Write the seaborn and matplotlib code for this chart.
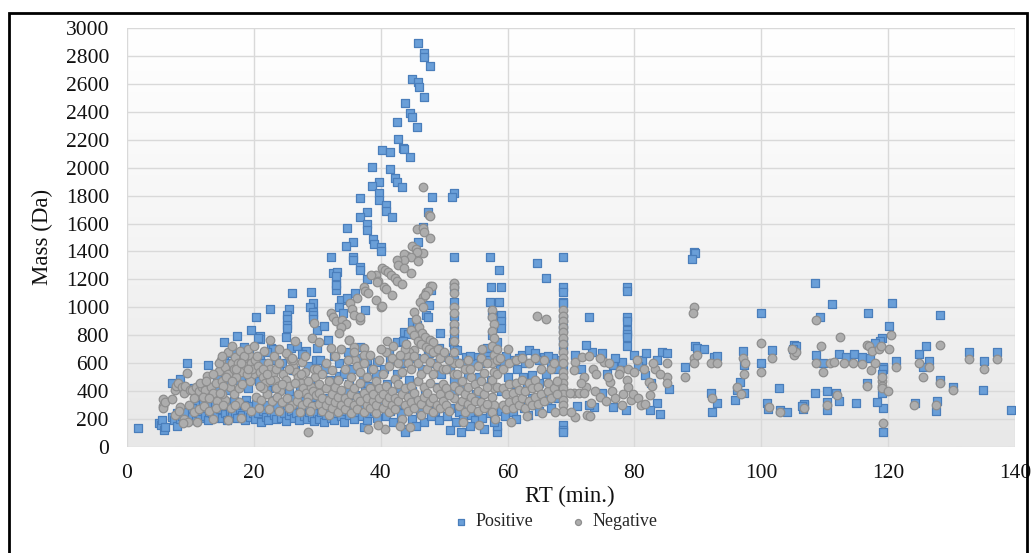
import numpy as np
import pandas as pd
import matplotlib
matplotlib.use("Agg")
import matplotlib.pyplot as plt
import seaborn as sns
from matplotlib.patches import Rectangle
from matplotlib.colors import LinearSegmentedColormap

# ---------------- data (RT min, Mass Da) ----------------
pos_low_rt = [(1.7,134),(5.0,174),(5.3,160),(5.5,195),(5.8,122),(6.0,140),(7.1,213),(7.4,195),(7.9,150),(7.9,241),(8.3,200),(8.4,487),(8.7,225),(9.0,185),(9.3,210),(9.5,599),(9.8,230),(7.1,460),(8.8,430),(9.2,250),
(10.3,217),(10.8,190),(11.2,240),(11.5,205),(11.9,260),(12.3,220),(12.7,195),(13.0,250),(13.4,241),(13.8,205),(14.2,230),(14.6,270),(15.0,210),(15.4,240),(15.8,190),(16.2,260),(16.6,220),(17.0,240),(17.4,205),(17.8,275),(18.2,230),(18.6,190),(19.0,250),(19.4,215),(19.8,240),(11.0,300),(12.0,330),(13.6,310),(15.6,320),(17.2,300),(18.8,340),(19.6,290),
(12.8,587),(14.1,420),(15.3,754),(15.3,635),(15.5,515),(16.5,671),(16.7,556),(17.4,795),(17.6,480),(18.4,718),(19.6,838),(13.2,430),(14.8,560),(16.0,600),(17.0,640),(18.0,500),(18.8,560),(19.2,660),(10.6,420),(11.6,380),(12.4,400),(16.2,450),(19.0,420),(14.4,480),(14.2,503),(16.0,408),
(10.2,280),(12.6,300),(14.8,290),(16.8,330),(18.4,300)]

pos_mid_rt = [(20.3,929),(20.9,795),(20.9,770),(22.5,986),(22.7,707),(23.0,700),(25.5,986),(25.3,945),(25.3,916),(25.2,874),(25.3,852),(25.1,790),(26.0,1105),(29.0,1112),(29.4,1033),(28.9,1005),(29.4,969),(29.4,945),(29.4,917),(30.0,838),(27.9,671),(28.2,690),(26.5,551),(25.9,707),(21.0,650),(21.5,600),(22.0,680),(23.5,620),(24.0,560),(24.5,600),(20.5,560),(26.8,720),(27.6,666),(28.5,580),(29.8,620),(20.6,778),(22.9,503),(26.2,551),
(20.2,200),(20.7,240),(21.1,180),(21.5,260),(21.9,215),(22.3,190),(22.7,250),(23.1,230),(23.5,200),(23.9,270),(24.3,210),(24.7,245),(25.1,185),(25.5,230),(25.9,260),(26.3,205),(26.7,240),(27.1,190),(27.5,275),(27.9,225),(28.3,200),(28.7,250),(29.1,215),(29.5,185),(29.9,240),(21.0,320),(23.0,340),(24.6,310),(26.0,350),(27.8,330),(29.2,360),(22.4,420),(24.0,450),(25.6,400),(27.2,430),(28.8,470),(20.8,470),(22.1,408),
(20.4,310),(22.0,300),(23.6,290),(25.3,300),(27.0,310),(28.6,300)]

pos_ridge = [(32.1,1358),(32.5,1243),(33.1,1254),(32.9,1172),(32.9,1124),(33.7,1053),(34.7,1566),(35.7,1470),(34.6,1439),(35.7,1363),(35.7,1340),(35.9,1100),(36.7,1291),(36.7,1270),(36.8,1781),(37.9,1685),(36.8,1649),(37.9,1597),(37.9,1554),(37.9,1201),(38.7,2003),(39.7,1900),(38.7,1869),(39.7,1816),(39.7,1768),(38.8,1487),(38.9,1451),(40.0,1434),(40.0,1406),(32.9,1227),(32.9,1160),(34.7,1065),(31.1,866),(31.7,766),(33.5,508),(36.8,714),(36.8,599),(30.0,707),(37.6,981),(33.5,1000),(34.0,960),
(45.8,2890),(46.8,2823),(46.9,2790),(47.7,2728),(45.0,2633),(45.8,2613),(46.0,2575),(46.8,2508),(43.9,2461),(44.6,2394),(45.0,2361),(42.6,2330),(45.7,2293),(42.7,2203),(40.2,2127),(41.4,2114),(43.5,2141),(43.7,2135),(44.6,2079),(41.4,1988),(42.3,1924),(42.5,1900),(43.3,1864),(40.8,1733),(40.8,1690),(41.8,1649),(48.1,1792),(47.5,1685),(46.7,1577),(45.9,1466),(47.9,1124),(47.6,1017),(47.1,945),(47.4,930),(45.0,897),(45.7,873),(43.6,825),(44.3,810),(42.6,754),(43.5,760),(41.3,682),(39.4,611),(49.4,814)]

pos_30_50 = [(30.5,620),(31.2,560),(32.0,480),(32.6,650),(33.4,600),(34.2,520),(34.8,680),(35.5,560),(36.2,640),(37.2,500),(37.8,620),(38.5,560),(39.2,520),(35.0,450),(38.0,440),
(30.2,200),(30.6,250),(31.0,180),(31.4,230),(31.8,270),(32.2,210),(32.6,190),(33.0,240),(33.4,290),(33.8,220),(34.2,180),(34.6,260),(35.0,230),(35.4,300),(35.8,200),(36.2,250),(36.6,330),(37.0,220),(37.3,145),(37.4,280),(37.8,190),(38.2,240),(38.6,320),(39.0,260),(39.4,210),(39.8,350),(31.5,350),(33.0,380),(34.5,400),(36.0,370),(37.5,400),(39.0,420),
(40.5,560),(41.5,620),(42.5,520),(43.5,600),(44.5,480),(45.5,640),(46.5,560),(47.5,700),(48.5,600),(49.5,520),(47.6,671),(49.2,707),(41.0,450),(43.0,420),(45.0,400),(47.0,380),(49.0,430),(40.2,300),(40.8,220),(41.4,260),(42.0,180),(42.6,310),(43.2,240),(43.8,130),(43.9,110),(44.4,280),(45.0,200),(45.6,330),(46.2,250),(46.8,180),(47.4,300),(48.0,220),(48.6,260),(49.2,190),(49.8,310),(45.5,150)]

pos_50_70 = [(51.5,1816),(51.3,1790),(51.5,1363),(51.5,1148),(51.5,1040),(51.5,935),(51.5,864),(51.5,792),(51.4,754),(51.5,700),(51.5,620),(51.5,480),(51.5,400),
(57.3,1363),(58.6,1267),(57.4,1143),(58.9,1143),(57.3,1040),(58.6,1040),(57.6,945),(58.9,945),(58.9,900),(58.9,850),(57.5,800),(58.4,750),(57.6,700),(58.8,560),(57.4,480),(58.4,110),(58.4,150),
(64.7,1315),(66.0,1208),
(68.8,1363),(68.8,1148),(68.8,1110),(68.8,1040),(68.8,1029),(68.8,921),(68.8,850),(68.8,760),(68.8,700),(68.8,581),(68.8,158),(68.8,122),(68.8,110),
(53.4,647),(55.2,647),(60.7,623),(62.3,659),(63.4,694),(64.4,671),(65.7,647),(66.8,587),(68.3,623),(56.8,707),(56.8,650),(52.0,694),(50.2,647),(63.9,515),(54.5,600),(59.5,600),(61.5,560),(67.2,640),
(50.5,220),(51.0,280),(51.8,180),(52.4,250),(53.0,200),(53.6,300),(54.2,230),(54.8,190),(55.4,260),(56.0,210),(56.6,300),(57.2,240),(57.8,180),(59.0,260),(59.6,220),(60.2,300),(60.8,250),(61.4,200),(62.0,330),(62.6,280),(63.2,230),(63.8,350),(64.4,300),(65.0,260),(65.6,380),(66.2,330),(66.8,280),(67.4,400),(68.0,350),(52.6,110),(53.0,420),(55.0,380),(57.0,440),(59.0,400),(61.0,450),(63.0,420),(65.0,460),(67.0,440),(51.0,120),(56.3,130),(54.0,150),
(51.0,560),(52.8,600),(54.0,650),(55.8,600),(57.0,620),(59.8,650),(61.8,640),(62.8,600),(64.9,620),(66.3,650),(67.8,560),(60.0,500),(62.5,500),(66.0,520),(53.8,520),(55.5,500)]

pos_70_90 = [(72.8,929),(78.9,1143),(78.9,1115),(78.9,929),(78.9,900),(78.9,838),(78.9,810),(78.9,785),(78.9,723),(70.7,659),(73.3,682),(74.9,675),(72.4,730),(76.7,587),(75.7,523),(78.1,611),(79.9,659),(81.2,623),(81.9,671),(81.7,515),(82.6,456),(84.4,682),(85.2,675),(83.6,623),(85.4,413),(83.6,313),(84.1,236),(82.5,265),(78.6,265),(76.7,289),(74.9,389),(73.6,289),(72.9,300),(70.9,294),(71.5,560),(77.0,640),(80.5,580),
(87.9,571),(89.5,723),(89.8,710),(90.9,700),(92.5,647),(93.0,651),(92.0,389),(92.3,253),(93.0,317),(89.4,1398),(89.6,1390),(89.1,1344)]

pos_high_rt = [(97.1,690),(97.2,587),(96.7,467),(96.1,408),(97.2,384),(95.9,336),
(100.0,962),(100.0,599),(101.7,694),(102.8,420),(100.9,313),(101.1,270),(102.9,265),(104.0,253),(106.7,301),(106.5,270),(105.1,730),(105.4,720),(105.0,700),
(108.5,1172),(111.2,1024),(116.8,957),(120.6,1029),(128.1,945),(109.2,933),(120.2,866),(119.1,778),(118.7,760),(117.9,742),(108.7,659),(109.8,599),(112.2,666),(113.3,647),(114.6,664),(115.8,647),(117.2,635),(119.2,575),(119.2,560),(119.1,520),(119.1,384),(119.2,277),(119.2,110),(116.6,460),(118.3,324),(121.2,618),(124.8,666),(126.0,725),(126.5,618),(125.5,575),(128.1,480),(130.3,427),(132.7,678),(135.1,618),(137.1,678),(134.9,408),(139.3,265),(124.2,313),(127.5,258),(127.7,330),(108.4,389),(110.4,398),(110.4,320),(110.3,265),(111.8,390),(112.3,330),(115.0,313),(106.8,308),(106.4,290)]

neg_low_rt = [(5.6,341),(5.6,294),(5.6,280),(6.0,320),(7.1,341),(7.5,408),(7.8,440),(8.0,460),(8.4,288),(8.6,427),(9.0,390),(9.2,440),(9.5,532),(9.8,300),(7.5,230),(8.2,260),(9.0,200),(9.6,180),(8.8,170),(9.9,410),
(10.3,408),(10.8,427),(11.3,400),(11.8,430),(12.3,410),(12.6,508),(13.3,427),(13.6,390),(14.0,456),(14.5,546),(14.9,470),(15.5,575),(15.5,336),(15.9,520),(16.3,430),(16.5,599),(16.9,560),(17.1,646),(17.5,600),(17.9,540),(18.3,620),(18.7,580),(19.3,659),(19.6,600),(19.9,520),(14.8,620),(16.0,680),(17.8,690),(18.5,650),(19.0,700),(12.0,360),(13.0,350),(14.2,330),(15.0,380),(16.8,380),(17.6,420),(18.2,450),(19.4,470),(15.6,500),(17.2,500),
(10.6,250),(11.4,270),(12.2,290),(13.0,260),(14.0,280),(15.2,300),(16.4,280),(17.6,320),(18.6,290),(19.5,260),(11.0,180),(13.5,200),(16.0,190),(18.0,210),(16.6,470),(18.9,520),(19.7,560),(15.2,440),(17.0,300),(14.6,390),
(10.5,350),(11.5,460),(12.5,470),(13.5,520),(14.5,600),(15.0,650),(16.5,720),(17.2,560),(18.0,600),(19.0,560)]

neg_mid_rt = [(20.2,620),(20.6,580),(21.0,540),(21.4,500),(21.8,460),(22.2,600),(22.6,560),(23.0,520),(23.4,480),(23.8,440),(24.2,400),(24.6,520),(25.0,480),(25.4,660),(25.8,620),(26.2,580),(26.6,540),(27.0,500),(27.4,460),(27.8,420),(28.2,390),(28.6,360),(29.0,430),(29.4,400),(29.8,370),(20.4,360),(21.2,340),(22.0,380),(22.8,330),(23.6,360),(24.4,320),(25.2,350),(26.0,300),(26.8,330),(27.6,300),(28.4,320),(29.2,290),(20.8,280),(22.4,270),(24.0,260),(25.6,280),(27.2,250),(28.8,260),(28.5,110),(21.6,690),(23.2,650),(20.0,720),
(22.6,766),(25.0,671),(26.2,623),(27.6,611),(29.2,778),(30.2,754),(29.5,885),(32.1,957),(32.5,930),(33.0,900),(33.7,861),(32.1,707),(35.0,766),(36.8,909),(24.0,700),(26.5,760),(21.5,420),(23.5,560),(25.5,440),(27.0,380),(28.0,540),(29.6,500),
(20.5,650),(21.5,560),(22.5,480),(23.5,420),(24.5,450),(25.5,560),(26.5,460),(27.5,520),(28.5,470),(29.5,560),(20.9,440),(22.0,520),(24.0,600),(26.0,640),(28.0,650),(30.0,560)]

neg_ridge = [(46.7,1864),(47.6,1661),(47.7,1654),(45.7,1558),(46.7,1565),(46.8,1540),(47.7,1499),(45.0,1439),(45.5,1420),(46.7,1391),(45.7,1398),(44.2,1370),(43.7,1382),(44.7,1360),(45.8,1334),(43.6,1339),(42.6,1339),(42.8,1300),(43.6,1279),(44.7,1243),(40.2,1279),(40.7,1265),(41.1,1255),(41.6,1230),(42.2,1208),(42.6,1190),(43.4,1167),(39.2,1232),(39.5,1190),(40.5,1148),(40.9,1130),(41.8,1088),(38.4,1232),(39.4,1184),(37.3,1148),(37.6,1120),(38.0,1100),(39.2,1053),(40.0,1005),(40.2,1009),(36.3,1065),(35.2,1029),(35.5,990),(35.8,945),(33.9,909),(34.5,880),(33.7,861),(36.8,933),(33.4,814),(35.0,766),(35.8,718),(37.3,707),(37.3,659),(36.0,623),
(47.8,1153),(47.1,1112),(46.6,1075),(46.2,1040),(46.6,1000),(45.2,969),(45.6,920),(46.0,860),(46.5,814),(47.0,790),(47.8,766),(48.2,750),(48.1,1153),(47.4,1119),(47.0,1090),(44.7,838),(45.2,800),(45.8,760),(46.4,740),(47.1,718),(47.6,700),(48.3,680),(45.2,694),(44.5,680),(44.0,660)]

neg_30_50 = [(30.3,310),(30.3,390),(30.3,450),(30.8,260),(30.8,350),(30.8,520),(31.3,300),(31.3,420),(31.3,600),(31.8,230),(31.8,340),(31.8,470),(32.3,280),(32.3,380),(32.3,550),(32.8,320),(32.8,430),(32.8,650),(33.3,250),(33.3,360),(33.3,480),(33.8,300),(33.8,410),(33.8,700),(34.3,270),(34.3,350),(34.3,560),(34.8,320),(34.8,450),(34.8,620),(35.3,240),(35.3,380),(35.3,500),(35.8,300),(35.8,420),(35.8,680),(36.3,270),(36.3,360),(36.3,580),(36.8,330),(36.8,460),(36.8,540),(37.3,250),(37.3,390),(37.3,600),(37.8,300),(37.8,350),(37.8,500),(38.3,280),(38.3,420),(38.3,660),(38.8,330),(38.8,380),(38.8,560),(39.3,240),(39.3,300),(39.3,470),(39.8,350),(39.8,420),(39.8,620),
(40.3,280),(40.3,380),(40.3,520),(40.8,320),(40.8,440),(40.8,680),(41.3,250),(41.3,360),(41.3,580),(41.8,300),(41.8,400),(41.8,640),(42.3,270),(42.3,350),(42.3,490),(42.8,330),(42.8,450),(42.8,600),(43.3,200),(43.3,380),(43.3,540),(43.8,300),(43.8,420),(43.8,700),(44.3,260),(44.3,360),(44.3,600),(44.8,320),(44.8,440),(44.8,560),(45.3,280),(45.3,390),(45.3,650),(45.8,340),(45.8,470),(45.8,600),(46.3,230),(46.3,310),(46.3,520),(46.8,360),(46.8,430),(46.8,640),(47.3,270),(47.3,390),(47.3,560),(47.8,320),(47.8,460),(47.8,610),(48.3,250),(48.3,350),(48.3,520),(48.8,300),(48.8,420),(48.8,580),(49.3,280),(49.3,380),(49.3,640),(49.8,330),(49.8,450),(49.8,560),(38.0,130),(40.6,130),(39.5,160),(43.0,150),(44.6,140),
(40.0,700),(41.0,760),(42.0,720),(43.0,660),(44.0,740),(49.0,700)]

neg_50_70 = [(51.5,1172),(51.5,1148),(51.5,1100),(51.5,1000),(51.5,960),(51.5,880),(51.5,830),(51.5,760),(51.5,680),(51.5,600),(51.5,520),(51.5,440),(51.5,350),
(57.6,981),(57.6,930),(57.9,880),(57.6,830),(57.9,780),(57.6,720),(57.9,660),(57.6,600),(57.9,540),(57.6,480),(57.9,420),(57.6,360),(57.9,300),(57.6,250),(58.4,700),(58.4,620),(58.4,520),(58.4,430),
(64.7,938),(66.0,917),
(68.8,980),(68.8,940),(68.8,900),(68.8,860),(68.8,820),(68.8,780),(68.8,740),(68.8,680),(68.8,640),(68.8,600),(68.8,540),(68.8,500),(68.8,460),(68.8,420),(68.8,380),(68.8,340),(68.8,300),(68.8,260),
(50.3,300),(50.3,420),(50.3,560),(50.8,260),(50.8,370),(50.8,620),(52.3,290),(52.3,410),(52.3,600),(52.8,330),(52.8,470),(53.3,250),(53.3,380),(53.3,560),(53.8,310),(53.8,430),(53.8,620),(54.3,280),(54.3,360),(54.3,500),(54.8,330),(54.8,450),(55.3,260),(55.3,400),(55.3,580),(55.8,320),(55.8,470),(55.8,640),(56.3,280),(56.3,380),(56.3,530),(56.8,310),(56.8,430),(56.8,600),
(59.3,300),(59.3,420),(59.3,560),(59.8,270),(59.8,380),(60.3,320),(60.3,450),(60.3,600),(60.8,280),(60.8,390),(61.3,340),(61.3,460),(61.3,620),(61.8,300),(61.8,410),(62.3,350),(62.3,480),(62.3,640),(62.8,280),(62.8,400),(63.3,330),(63.3,460),(63.3,600),(63.8,300),(63.8,420),(64.3,360),(64.3,480),(64.3,640),(64.8,310),(64.8,430),(65.3,380),(65.3,560),(65.8,330),(65.8,620),(66.3,400),(66.3,460),(66.8,350),(66.8,560),(67.3,420),(67.3,600),(67.8,380),(67.8,470),(53.0,180),(55.5,160),(58.0,200),(60.5,180),(63.0,220),(65.5,240),(67.5,250),
(50.0,680),(52.0,520),(54.0,560),(56.0,700),(58.8,640),(60.0,700)]

neg_70_90 = [(70.7,611),(70.4,551),(71.8,647),(72.0,503),(72.3,432),(71.5,460),(73.1,313),(72.6,229),(73.0,220),(70.7,217),(70.0,250),(70.4,384),(69.9,384),(71.2,384),(72.0,384),(76.2,467),(75.8,500),(77.8,551),(77.5,520),(78.9,480),(79.0,430),(79.4,336),(79.8,380),(80.5,350),(81.0,300),(82.3,467),(82.8,440),(82.5,372),(81.6,310),(80.4,623),(85.2,599),(85.2,503),(85.2,460),(83.3,556),(75.2,611),(74.6,640),(73.5,560),(74.0,520),(73.8,400),(74.5,360),(75.5,330),(76.5,400),(77.0,350),(78.0,300),(78.2,380),(79.0,560),(80.0,540),(81.5,560),(83.0,600),(84.0,520),(72.8,650),(76.0,600),
(89.4,1000),(89.3,957),(89.4,635),(89.4,599),(89.8,660),(87.9,503),(92.0,599),(93.0,599),(92.3,348)]

neg_high_rt = [(97.1,635),(97.2,523),(97.5,600),(96.1,432),(96.8,380),(100.0,742),(100.0,539),(101.2,289),(103.0,253),(101.7,635),(105.1,659),(105.5,680),(104.8,700),(106.7,277),
(108.6,912),(109.4,720),(112.4,785),(116.7,730),(117.0,720),(120.4,802),(120.2,702),(108.7,600),(109.8,540),(110.9,600),(111.5,610),(113.0,605),(114.5,600),(115.8,595),(117.3,551),(118.0,600),(119.1,470),(119.1,440),(119.1,420),(119.1,500),(119.2,174),(116.6,440),(121.2,570),(124.8,600),(128.1,730),(126.5,570),(125.5,503),(128.1,460),(130.3,410),(132.7,630),(135.1,560),(137.1,630),(117.5,690),(118.5,700),(118.8,720),(110.3,300),(112.0,370),(124.0,300),(127.5,300),(120.0,400)]

series_names = ["Positive", "Negative"]
x_ticks = [0, 20, 40, 60, 80, 100, 120, 140]
y_ticks = list(range(0, 3001, 200))

# ---------------- build table ----------------
pos = pos_low_rt + pos_mid_rt + pos_ridge + pos_30_50 + pos_50_70 + pos_70_90 + pos_high_rt
neg = neg_low_rt + neg_mid_rt + neg_ridge + neg_30_50 + neg_50_70 + neg_70_90 + neg_high_rt
df = pd.DataFrame(pos + neg, columns=["RT", "Mass"])
df["Ion"] = [series_names[0]] * len(pos) + [series_names[1]] * len(neg)

sns.set_style("white")
plt.rcParams["font.family"] = ["Liberation Serif", "DejaVu Serif"]

W, H = 1032, 553
fig = plt.figure(figsize=(W / 100, H / 100), dpi=100)
rect = [127 / W, 1 - 447 / H, (1015 - 127) / W, (447 - 28) / H]

# gradient background
bg = fig.add_axes(rect, zorder=0)
cmap = LinearSegmentedColormap.from_list("g", ["#e8e8e8", "#f5f5f5", "#ffffff"])
bg.imshow(np.linspace(0, 1, 256).reshape(-1, 1), cmap=cmap, aspect="auto", origin="lower", extent=[0, 1, 0, 1])
bg.axis("off")

ax = fig.add_axes(rect, zorder=1)
ax.patch.set_alpha(0)

sns.scatterplot(data=df[df.Ion == "Positive"], x="RT", y="Mass", marker="s", s=36,
                color="#6A9FD8", edgecolor="#4A7EBB", linewidth=0.9, label="Positive", legend=False, ax=ax, zorder=3)
sns.scatterplot(data=df[df.Ion == "Negative"], x="RT", y="Mass", marker="o", s=38,
                color="#ADADAD", edgecolor="#8E8E8E", linewidth=0.9, label="Negative", legend=False, ax=ax, zorder=4)

ax.set_xlim(0, 140)
ax.set_ylim(0, 3000)
ax.set_xticks(x_ticks)
ax.set_yticks(y_ticks)
ax.grid(True, color="#d9d9d9", linewidth=1.0, zorder=0)
ax.set_axisbelow(True)
for sp in ax.spines.values():
    sp.set_visible(False)
ax.tick_params(axis="both", length=0, labelsize=15.5, colors="#111111")
ax.tick_params(axis="x", pad=12)
ax.tick_params(axis="y", pad=13)
ax.set_xlabel("")
ax.set_ylabel("")

fig.text(570 / W, 1 - 496 / H, "RT (min.)", ha="center", va="center", fontsize=16.5, color="#111111")
fig.text(42 / W, 1 - 237 / H, "Mass (Da)", ha="center", va="center", rotation=90, fontsize=16.5, color="#111111")

handles, labels = ax.get_legend_handles_labels()
fig.legend(handles, labels, loc="center", bbox_to_anchor=(555 / W, 1 - 522 / H), ncol=2, frameon=False,
           fontsize=13, markerscale=0.7, handletextpad=0.3, columnspacing=2.0, handlelength=1.0)

fig.patches.append(Rectangle((9 / W, -0.05), (1027 - 9) / W, (1 - 13 / H) + 0.05, fill=False,
                             edgecolor="black", linewidth=2, transform=fig.transFigure, figure=fig))

fig.savefig("out.png", dpi=100)
